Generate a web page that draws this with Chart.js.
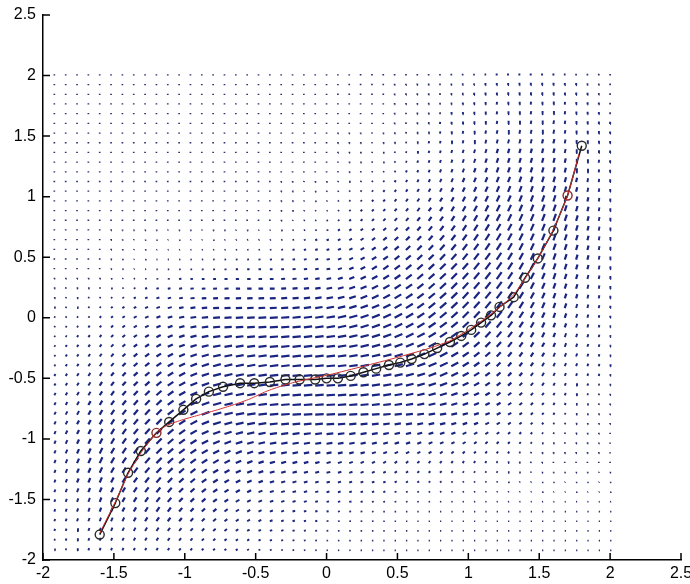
<!DOCTYPE html>
<html><head><meta charset="utf-8">
<script src="https://cdn.jsdelivr.net/npm/chart.js@4.4.0/dist/chart.umd.min.js"></script>
<style>html,body{margin:0;padding:0;background:#fff;}#wrap{width:690px;height:584px;position:relative;}</style>
</head><body><div id="wrap"><canvas id="c"></canvas></div>
<script>
// ---- tick labels ----
const xTicks = [-2, -1.5, -1, -0.5, 0, 0.5, 1, 1.5, 2, 2.5];
const yTicks = [-2, -1.5, -1, -0.5, 0, 0.5, 1, 1.5, 2, 2.5];

// ---- demonstration (black, circle markers) ----
const demoX = [-1.60,-1.49,-1.40,-1.31,-1.20,-1.11,-1.01,-0.92,-0.83,-0.73,-0.61,-0.51,-0.40,-0.29,-0.19,-0.08,0.00,0.08,0.17,0.26,0.35,0.44,0.52,0.60,0.69,0.78,0.87,0.95,1.02,1.09,1.16,1.22,1.32,1.40,1.49,1.60,1.70,1.80];
const demoY = [-1.79,-1.53,-1.28,-1.10,-0.95,-0.86,-0.76,-0.67,-0.61,-0.57,-0.54,-0.54,-0.53,-0.51,-0.51,-0.51,-0.50,-0.50,-0.48,-0.45,-0.42,-0.39,-0.37,-0.34,-0.30,-0.25,-0.20,-0.15,-0.10,-0.04,0.02,0.09,0.17,0.33,0.49,0.72,1.01,1.42];

// ---- reproduction (red) ----
const reproX = [-1.60,-1.49,-1.40,-1.30,-1.20,-1.13,-1.01,-0.89,-0.77,-0.66,-0.54,-0.43,-0.31,-0.20,0.02,0.26,0.49,0.73,0.87,1.00,1.16,1.32,1.49,1.60,1.70,1.78];
const reproY = [-1.78,-1.52,-1.29,-1.10,-0.95,-0.89,-0.84,-0.80,-0.76,-0.72,-0.67,-0.61,-0.56,-0.525,-0.47,-0.40,-0.33,-0.25,-0.19,-0.10,0.03,0.19,0.49,0.73,1.01,1.35];

// ---- vector field at coarse nodes ----
const fieldNodesX = [-2.0,-1.6,-1.2,-0.8,-0.4,0.0,0.4,0.8,1.2,1.6,2.0];
const fieldNodesY = [2.0,1.6,1.2,0.8,0.4,0.0,-0.4,-0.8,-1.2,-1.6,-2.0];
// direction as seen (degrees from +x, counter-clockwise), rows follow fieldNodesY
const fieldAngle = [
  [90,90,90,90,90,90,90,90,90,90,90],
  [90,90,90,90,90,90,90,85,80,80,90],
  [90,90,90,90,90,90,60,70,70,75,90],
  [90,90,90,90,90,30,45,55,62,70,85],
  [90,90, 0, 0, 0,10,35,45,55,70,85],
  [70,50,20, 3, 3,10,25,40,52,70,85],
  [60,55,35,15, 7, 5,12,25,45,65,80],
  [65,60,45,15, 5, 3, 5,10,25,60,90],
  [70,65,45,30,15,15,30,50,70,90,90],
  [70,70,55,40,20,10, 0, 0, 0, 0, 0],
  [70,70,60,40,20, 0, 0, 0, 0, 0, 0]
];
// magnitude (8 = longest arrow)
const fieldSpeed = [
  [1.2,1.2,1.2,1.2,1.2,1.2,1.5,1.5,2.0,2.0,1.5],
  [1.2,1.2,1.2,1.2,1.2,1.2,1.2,2.0,3.0,3.5,2.0],
  [1.2,1.2,1.2,1.2,1.2,1.2,1.5,3.0,5.0,5.0,2.5],
  [1.2,1.2,1.2,1.2,1.2,1.5,3.0,5.0,7.0,7.0,3.0],
  [1.2,1.2,1.3,1.8,2.5,3.5,6.0,7.5,8.0,6.0,3.0],
  [1.5,2.0,4.0,6.5,7.5,8.0,8.0,8.0,8.0,5.0,2.0],
  [1.5,3.5,5.5,7.5,8.0,8.0,8.0,8.0,5.0,3.5,2.0],
  [2.5,5.0,7.0,8.0,8.0,8.0,7.0,6.0,4.0,2.0,1.2],
  [2.5,6.0,7.0,6.0,5.0,4.0,3.0,2.5,2.0,1.2,1.2],
  [2.0,4.0,5.0,4.0,3.0,2.0,1.5,1.2,1.2,1.2,1.2],
  [1.5,2.0,2.0,1.8,1.5,1.2,1.2,1.2,1.2,1.2,1.2]
];
// quiver sample grid
const quiverStart = -1.92, quiverStep = 0.08, quiverCount = 50;

const ARROW = 0.06;          // data length of longest arrow (x units)
const ASPECT = 638 / 545;    // x px-per-unit over y px-per-unit

function nodeUV(r, c) {
  const a = fieldAngle[r][c] * Math.PI / 180, s = fieldSpeed[r][c] / 8;
  return [s * Math.cos(a), s * Math.sin(a)];
}
function fieldAt(x, y) {
  let fc = (x - fieldNodesX[0]) / 0.4, fr = (fieldNodesY[0] - y) / 0.4;
  fc = Math.max(0, Math.min(fieldNodesX.length - 1.0001, fc));
  fr = Math.max(0, Math.min(fieldNodesY.length - 1.0001, fr));
  const c0 = Math.floor(fc), r0 = Math.floor(fr), tc = fc - c0, tr = fr - r0;
  const a = nodeUV(r0, c0), b = nodeUV(r0, c0 + 1), d = nodeUV(r0 + 1, c0), e = nodeUV(r0 + 1, c0 + 1);
  const u = (a[0] * (1 - tc) + b[0] * tc) * (1 - tr) + (d[0] * (1 - tc) + e[0] * tc) * tr;
  const v = (a[1] * (1 - tc) + b[1] * tc) * (1 - tr) + (d[1] * (1 - tc) + e[1] * tc) * tr;
  return [u, v];
}

// three strength tiers so stroke weight grows gradually with magnitude
const tierData = [[], [], []];
for (let i = 0; i < quiverCount; i++) {
  for (let j = 0; j < quiverCount; j++) {
    const x = quiverStart + i * quiverStep, y = quiverStart + j * quiverStep;
    const [u, v] = fieldAt(x, y);
    const mag = Math.hypot(u, v);
    const t = mag < 0.25 ? 0 : (mag < 0.5 ? 1 : 2);
    tierData[t].push({x: x, y: y}, {x: x + u * ARROW, y: y + v * ARROW * ASPECT}, {x: x, y: null});
  }
}
const demoData = demoX.map((x, i) => ({x: x, y: demoY[i]}));
const reproData = reproX.map((x, i) => ({x: x, y: reproY[i]}));

const inwardTicks = {
  id: 'inwardTicks',
  afterDraw(chart) {
    const {ctx, scales: {x, y}} = chart;
    ctx.save();
    ctx.strokeStyle = '#000';
    ctx.lineWidth = 1.5;
    ctx.beginPath();
    xTicks.forEach(v => { const p = x.getPixelForValue(v); ctx.moveTo(p, y.bottom); ctx.lineTo(p, y.bottom - 7); });
    yTicks.forEach(v => { const p = y.getPixelForValue(v); ctx.moveTo(x.left, p); ctx.lineTo(x.left + 7, p); });
    ctx.stroke();
    ctx.restore();
  }
};

Chart.defaults.font.family = "'Liberation Sans', Arial, sans-serif";
Chart.defaults.font.size = 16;
Chart.defaults.color = '#000';

const fieldStyle = (data, w, col, ord) => ({
  label: 'field', data: data, showLine: true, spanGaps: false, borderColor: col,
  borderWidth: w, borderCapStyle: 'butt', pointRadius: 0, tension: 0, order: ord
});

new Chart(document.getElementById('c'), {
  type: 'scatter',
  data: {
    datasets: [
      {
        label: 'reproduction', data: reproData, showLine: true, borderColor: '#d03030', borderWidth: 1,
        pointRadius: 0, tension: 0.2, order: 1
      },
      {
        label: 'demonstration', data: demoData, showLine: true, borderColor: '#111', borderWidth: 1.5,
        pointRadius: 4.5, pointBorderWidth: 1.4, pointBackgroundColor: 'rgba(0,0,0,0)',
        pointBorderColor: ctx => (ctx.dataIndex === 4 || ctx.dataIndex === 36) ? '#8a2a2a' : '#2a2a2a',
        order: 2
      },
      fieldStyle(tierData[2], 2.2, '#1a2682', 3),
      fieldStyle(tierData[1], 1.95, '#1e2a7c', 4),
      fieldStyle(tierData[0], 1.7, '#2c3270', 5)
    ]
  },
  options: {
    responsive: true, maintainAspectRatio: false, animation: false,
    layout: {padding: {top: 15, right: 9, left: 0, bottom: 0}},
    plugins: {legend: {display: false}, tooltip: {enabled: false}},
    elements: {line: {borderJoinStyle: 'round'}},
    scales: {
      x: {
        type: 'linear', min: -2, max: 2.5,
        afterBuildTicks: s => { s.ticks = xTicks.map(v => ({value: v})); },
        afterFit: s => { s.height = 24; s.paddingLeft = 0; s.paddingRight = 0; },
        grid: {display: true, drawOnChartArea: false, drawTicks: false},
        border: {display: true, color: '#000', width: 1.5},
        ticks: {padding: 4, maxRotation: 0, autoSkip: false, callback: v => String(v)}
      },
      y: {
        type: 'linear', min: -2, max: 2.5,
        afterBuildTicks: s => { s.ticks = yTicks.map(v => ({value: v})); },
        afterFit: s => { s.width = 43; s.paddingTop = 0; s.paddingBottom = 0; },
        grid: {display: true, drawOnChartArea: false, drawTicks: false},
        border: {display: true, color: '#000', width: 1.5},
        ticks: {padding: 7, autoSkip: false, callback: v => String(v)}
      }
    }
  },
  plugins: [inwardTicks]
});
</script></body></html>
